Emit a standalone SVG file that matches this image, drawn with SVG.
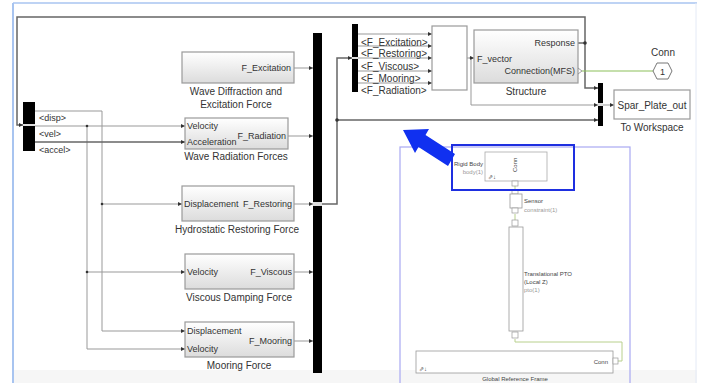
<svg xmlns="http://www.w3.org/2000/svg" width="702" height="383" viewBox="0 0 702 383">
<defs>
<linearGradient id="blk" x1="0" y1="0" x2="0" y2="1">
<stop offset="0" stop-color="#ffffff"/>
<stop offset="1" stop-color="#dcdcdc"/>
</linearGradient>
<marker id="ar" viewBox="0 0 6 6" refX="6" refY="3" markerWidth="4" markerHeight="4" orient="auto" markerUnits="userSpaceOnUse">
<path d="M0,0 L6,3 L0,6 Z" fill="#333"/>
</marker>
</defs>
<style>
.blk{fill:url(#blk);stroke:#9a9a9a;stroke-width:1.2}
.lbl{font-family:"Liberation Sans",Arial,sans-serif;font-size:9px;fill:#333}
.cap{font-family:"Liberation Sans",Arial,sans-serif;font-size:10px;fill:#333;text-anchor:middle}
.bl{font-family:"Liberation Sans",Arial,sans-serif;font-size:10px;fill:#333}
.sm{font-family:"Liberation Sans",Arial,sans-serif;font-size:6px;fill:#444}
.smg{font-family:"Liberation Sans",Arial,sans-serif;font-size:6px;fill:#999}
.sig{fill:none;stroke:#999;stroke-width:1}
.bus{fill:none;stroke:#666;stroke-width:1.5}
.phys{fill:none;stroke:#b8d08c;stroke-width:1}
.dot{fill:#333}
.bar{fill:#000}
</style>
<rect x="0" y="0" width="702" height="383" fill="#ffffff"/>
<rect x="13" y="370" width="684" height="13" fill="#f6f6f6"/>
<line x1="13" y1="3" x2="697" y2="3" stroke="#a8c4f0" stroke-width="1.5"/>
<line x1="13" y1="3" x2="13" y2="383" stroke="#a8c4f0" stroke-width="2"/>
<line x1="696" y1="3" x2="696" y2="383" stroke="#e4eaf6" stroke-width="1"/>

<g id="connectors">
<path class="bus" d="M578,43 H585"/>
<path class="bus" d="M585,43 V17 H17 V125 H23" marker-end="url(#ar)"/>
<path class="bus" d="M585,43 V88 H598" marker-end="url(#ar)"/>
<path class="sig" d="M35,111 H102 V331 H185" marker-end="url(#ar)"/>
<path class="sig" d="M102,204 H182" marker-end="url(#ar)"/>
<path class="sig" d="M35,126 H185" marker-end="url(#ar)"/>
<path class="sig" d="M87,126 V349 H185" marker-end="url(#ar)"/>
<path class="sig" d="M87,272 H185" marker-end="url(#ar)"/>
<path class="bus" d="M35,142 H185" marker-end="url(#ar)"/>
<path class="sig" d="M294,68 H313" marker-end="url(#ar)"/>
<path class="sig" d="M288,136 H313" marker-end="url(#ar)"/>
<path class="sig" d="M294,204 H313" marker-end="url(#ar)"/>
<path class="sig" d="M294,272 H313" marker-end="url(#ar)"/>
<path class="sig" d="M294,341 H313" marker-end="url(#ar)"/>
<path class="bus" d="M322,204 H337 V58 H352" marker-end="url(#ar)"/>
<path class="bus" d="M337,120 H598" marker-end="url(#ar)"/>
<path class="sig" d="M358,34 H432" marker-end="url(#ar)"/>
<path class="sig" d="M358,46 H432" marker-end="url(#ar)"/>
<path class="sig" d="M358,58 H432" marker-end="url(#ar)"/>
<path class="sig" d="M358,71 H432" marker-end="url(#ar)"/>
<path class="sig" d="M358,83 H432" marker-end="url(#ar)"/>
<path class="sig" d="M467,58 H474" marker-end="url(#ar)"/>
<path class="sig" d="M471,58 V105 H598" marker-end="url(#ar)"/>
<path class="sig" d="M603,105 H614" marker-end="url(#ar)"/>
<path d="M582,71 H653" fill="none" stroke="#8cc05a" stroke-width="1.2"/>
<path class="phys" d="M515,186 V191"/>
<path class="phys" d="M515,214 V220"/>
<path class="phys" d="M515,339 V342 H622 V361 H618"/>
<circle class="dot" cx="585" cy="43" r="1.8"/>
<circle class="dot" cx="102" cy="204" r="1.3"/>
<circle class="dot" cx="87" cy="126" r="1.3"/>
<circle class="dot" cx="87" cy="272" r="1.3"/>
<circle class="dot" cx="337" cy="120" r="1.8"/>
<circle class="dot" cx="471" cy="58" r="1.3"/>
</g>

<g id="busselector_left">
<rect class="bar" x="23" y="102" width="12" height="49"/>
<rect x="23" y="124" width="12" height="2" fill="#ddd"/>
<text class="lbl" x="39" y="121">&lt;disp&gt;</text>
<text class="lbl" x="39" y="137">&lt;vel&gt;</text>
<text class="lbl" x="39" y="153">&lt;accel&gt;</text>
</g>

<g id="excitation">
<rect class="blk" x="182" y="52" width="112" height="31"/>
<text class="lbl" x="291" y="71" text-anchor="end">F_Excitation</text>
<text class="cap" x="236" y="95">Wave Diffraction and</text>
<text class="cap" x="236" y="108">Excitation Force</text>
</g>

<g id="radiation">
<rect class="blk" x="185" y="118" width="103" height="31"/>
<text class="lbl" x="187" y="129">Velocity</text>
<text class="lbl" x="187" y="145">Acceleration</text>
<text class="lbl" x="286" y="139" text-anchor="end">F_Radiation</text>
<text class="cap" x="236" y="160">Wave Radiation Forces</text>
</g>

<g id="restoring">
<rect class="blk" x="182" y="186" width="112" height="35"/>
<text class="lbl" x="184" y="207">Displacement</text>
<text class="lbl" x="292" y="207" text-anchor="end">F_Restoring</text>
<text class="cap" x="237" y="233">Hydrostatic Restoring Force</text>
</g>

<g id="viscous">
<rect class="blk" x="185" y="254" width="109" height="35"/>
<text class="lbl" x="187" y="275">Velocity</text>
<text class="lbl" x="292" y="275" text-anchor="end">F_Viscous</text>
<text class="cap" x="239" y="301">Viscous Damping Force</text>
</g>

<g id="mooring">
<rect class="blk" x="185" y="322" width="109" height="35"/>
<text class="lbl" x="187" y="334">Displacement</text>
<text class="lbl" x="187" y="352">Velocity</text>
<text class="lbl" x="292" y="344" text-anchor="end">F_Mooring</text>
<text class="cap" x="239" y="369">Mooring Force</text>
</g>

<g id="buscreator">
<rect class="bar" x="313" y="33" width="9" height="340"/>
<rect x="313" y="202" width="9" height="4" fill="#ddd"/>
</g>

<g id="busselector_forces">
<rect class="bar" x="352" y="24" width="6" height="68"/>
<rect x="352" y="57" width="6" height="2" fill="#ddd"/>
<text class="bl" x="361" y="46">&lt;F_Excitation&gt;</text>
<text class="bl" x="361" y="57">&lt;F_Restoring&gt;</text>
<text class="bl" x="361" y="70">&lt;F_Viscous&gt;</text>
<text class="bl" x="361" y="82">&lt;F_Mooring&gt;</text>
<text class="bl" x="361" y="94">&lt;F_Radiation&gt;</text>
</g>

<g id="mux">
<rect x="432" y="26" width="35" height="64" fill="#fff" stroke="#9a9a9a" stroke-width="1.2"/>
</g>

<g id="structure">
<rect class="blk" x="474" y="30" width="104" height="53"/>
<text class="lbl" x="575" y="46" text-anchor="end">Response</text>
<text class="lbl" x="477" y="62">F_vector</text>
<text class="lbl" x="575" y="74" text-anchor="end">Connection(MFS)</text>
<path d="M578,68 L582,71 L578,74" fill="none" stroke="#888" stroke-width="0.8"/>
<text class="cap" x="526" y="95">Structure</text>
</g>

<g id="conn_port">
<polygon points="653,71 657,63 668,63 672,71 668,79 657,79" fill="#fff" stroke="#777" stroke-width="1"/>
<text class="lbl" x="662.5" y="74.5" text-anchor="middle">1</text>
<text class="cap" x="663" y="56">Conn</text>
</g>

<g id="outbus">
<rect class="bar" x="598" y="83" width="5" height="43"/>
<rect x="598" y="103" width="5" height="3" fill="#ddd"/>
</g>

<g id="toworkspace">
<rect x="614" y="90" width="76" height="29" fill="#fff" stroke="#9a9a9a" stroke-width="1.2"/>
<text class="bl" x="652" y="109" text-anchor="middle">Spar_Plate_out</text>
<text class="cap" x="652" y="131">To Workspace</text>
</g>

<g id="mechanics">
<rect x="400" y="147" width="230" height="240" fill="none" stroke="#a9a9f2" stroke-width="1.2"/>
<g id="rigidbody">
<rect x="485" y="152" width="62" height="29" fill="#fff" stroke="#aaa" stroke-width="0.8"/>
<text class="sm" x="483" y="166" text-anchor="end">Rigid Body</text>
<text class="smg" x="483" y="174" text-anchor="end">body(1)</text>
<text class="sm" x="0" y="0" transform="translate(517,172) rotate(-90)">Conn</text>
<text class="sm" x="488" y="179">⇗↓</text>
<rect x="512" y="181" width="6" height="5" fill="#fff" stroke="#999" stroke-width="0.7"/>
</g>
<g id="sensor">
<rect x="512" y="190" width="6" height="4" fill="#fff" stroke="#999" stroke-width="0.7"/>
<rect x="510" y="194" width="12" height="14" fill="#fff" stroke="#999" stroke-width="0.8"/>
<rect x="512" y="208" width="6" height="5" fill="#fff" stroke="#999" stroke-width="0.7"/>
<text class="sm" x="524" y="203">Sensor</text>
<text class="smg" x="524" y="212">constraint(1)</text>
</g>
<g id="pto">
<rect x="512" y="220" width="6" height="6" fill="#fff" stroke="#999" stroke-width="0.7"/>
<rect x="509" y="227" width="14" height="104" fill="#fff" stroke="#999" stroke-width="0.8"/>
<rect x="512" y="332" width="6" height="6" fill="#fff" stroke="#999" stroke-width="0.7"/>
<text class="sm" x="524" y="276">Translational PTO</text>
<text class="sm" x="524" y="284">(Local Z)</text>
<text class="smg" x="524" y="292">pto(1)</text>
</g>
<g id="globalframe">
<rect x="416" y="351" width="197" height="22" fill="#fff" stroke="#999" stroke-width="0.8"/>
<text class="sm" x="608" y="364" text-anchor="end">Conn</text>
<rect x="613" y="358" width="5" height="6" fill="#fff" stroke="#999" stroke-width="0.7"/>
<text class="sm" x="419" y="371">⇗↓</text>
<text class="sm" x="515" y="381" text-anchor="middle">Global Reference Frame</text>
</g>
<rect x="452" y="145" width="122" height="45" fill="none" stroke="#1e2fe0" stroke-width="2"/>
</g>

<g id="highlight_arrow">
<polygon points="403,130 429,129 425.5,135 455,154 448,166 418.5,147 415,153" fill="#1030f0"/>
</g>
</svg>
